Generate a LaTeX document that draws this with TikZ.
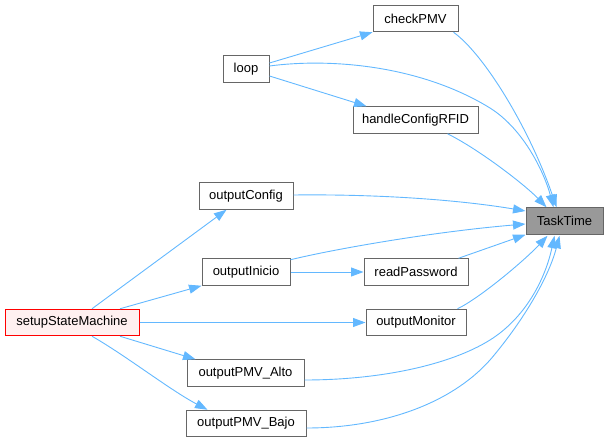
\documentclass[tikz,border=0pt]{standalone}
\usepackage{fontspec}
\setmainfont{Liberation Sans}
\usetikzlibrary{arrows.meta,calc}
\definecolor{edgeblue}{HTML}{63B8FF}
\definecolor{boxgray}{HTML}{666666}
\definecolor{hlgray}{HTML}{999999}
\definecolor{rootfill}{HTML}{FFF0F0}
\begin{document}
\begin{tikzpicture}[x=1pt,y=-1pt,
  fbox/.style={draw=boxgray,fill=white,line width=1pt,inner sep=0pt,minimum height=26.5pt,
    font=\fontsize{13}{15}\selectfont},
  hlbox/.style={fbox,fill=hlgray},
  rootbox/.style={fbox,draw=red,fill=rootfill},
  calls/.style={draw=edgeblue,line width=0.9pt,-{Triangle[length=12.5pt,width=9pt]}}]
\useasboundingbox (0,0) rectangle (609,443);
\node[hlbox,minimum width=77pt] (tt) at (564.5,221) {TaskTime};
\node[fbox,minimum width=85pt] (chk) at (415.5,18.5) {checkPMV};
\node[fbox,minimum width=46pt] (loop) at (246,69) {loop};
\node[fbox,minimum width=125pt] (hcr) at (415.5,120) {handleConfigRFID};
\node[fbox,minimum width=94pt] (ocfg) at (246,196) {outputConfig};
\node[fbox,minimum width=88pt] (oini) at (246,272) {outputInicio};
\node[rootbox,minimum width=134pt] (ssm) at (72,322.5) {setupStateMachine};
\node[fbox,minimum width=104pt] (rpw) at (416,272) {readPassword};
\node[fbox,minimum width=100pt] (omon) at (416,322.5) {outputMonitor};
\node[fbox,minimum width=117pt] (oalto) at (245.5,373) {outputPMV\_Alto};
\node[fbox,minimum width=120pt] (obajo) at (246,423.5) {outputPMV\_Bajo};

% loop
\draw[calls] ($(loop.east)+(0,-6)$) -- (chk.south west);
\draw[calls] ($(loop.east)+(0,7)$) -- ($(hcr.north west)+(14,0)$);
\draw[calls] ($(loop.east)+(0,-3)$) .. controls (330,58) and (420,65) .. (490,108)
  .. controls (525,130) and (545,175) .. ($(tt.north west)+(28,0)$);
% callers of TaskTime
\draw[calls] ($(chk.south east)+(-5,0)$) .. controls (485,55) and (530,130) .. ($(tt.north west)+(31,0)$);
\draw[calls] ($(hcr.south east)+(-31,0)$) .. controls (480,150) and (525,185) .. ($(tt.north west)+(21,0)$);
\draw[calls] ($(ocfg.east)+(0,-1)$) .. controls (380,194) and (460,200) .. ($(tt.west)+(0,-10)$);
\draw[calls] ($(oini.north east)+(0,1.5)$) .. controls (330,250) and (430,232) .. ($(tt.west)+(0,3)$);
\draw[calls] (oini.east) -- (rpw.west);
\draw[calls] ($(rpw.north east)+(-10,0)$) -- ($(tt.south west)+(0,0)$);
\draw[calls] ($(omon.north east)+(-9,0)$) .. controls (480,298) and (525,260) .. ($(tt.south west)+(22,1)$);
\draw[calls] ($(oalto.east)+(0,7)$) .. controls (380,380) and (450,365) .. (490,340)
  .. controls (525,318) and (545,280) .. ($(tt.south west)+(29,1)$);
\draw[calls] ($(obajo.east)+(0,4.5)$) .. controls (380,428) and (450,405) .. (490,360)
  .. controls (520,325) and (548,280) .. ($(tt.south west)+(34,1)$);
% setupStateMachine
\draw[calls] ($(ssm.north)+(20,0)$) -- ($(ocfg.south west)+(28,0)$);
\draw[calls] ($(ssm.north)+(48,0)$) -- (oini.south west);
\draw[calls] (ssm.east) -- (omon.west);
\draw[calls] ($(ssm.south)+(48,0)$) -- ($(oalto.north west)+(9,0)$);
\draw[calls] ($(ssm.south)+(20,0)$) .. controls (125,355) and (170,390) .. ($(obajo.north west)+(22,0)$);
\end{tikzpicture}
\end{document}
